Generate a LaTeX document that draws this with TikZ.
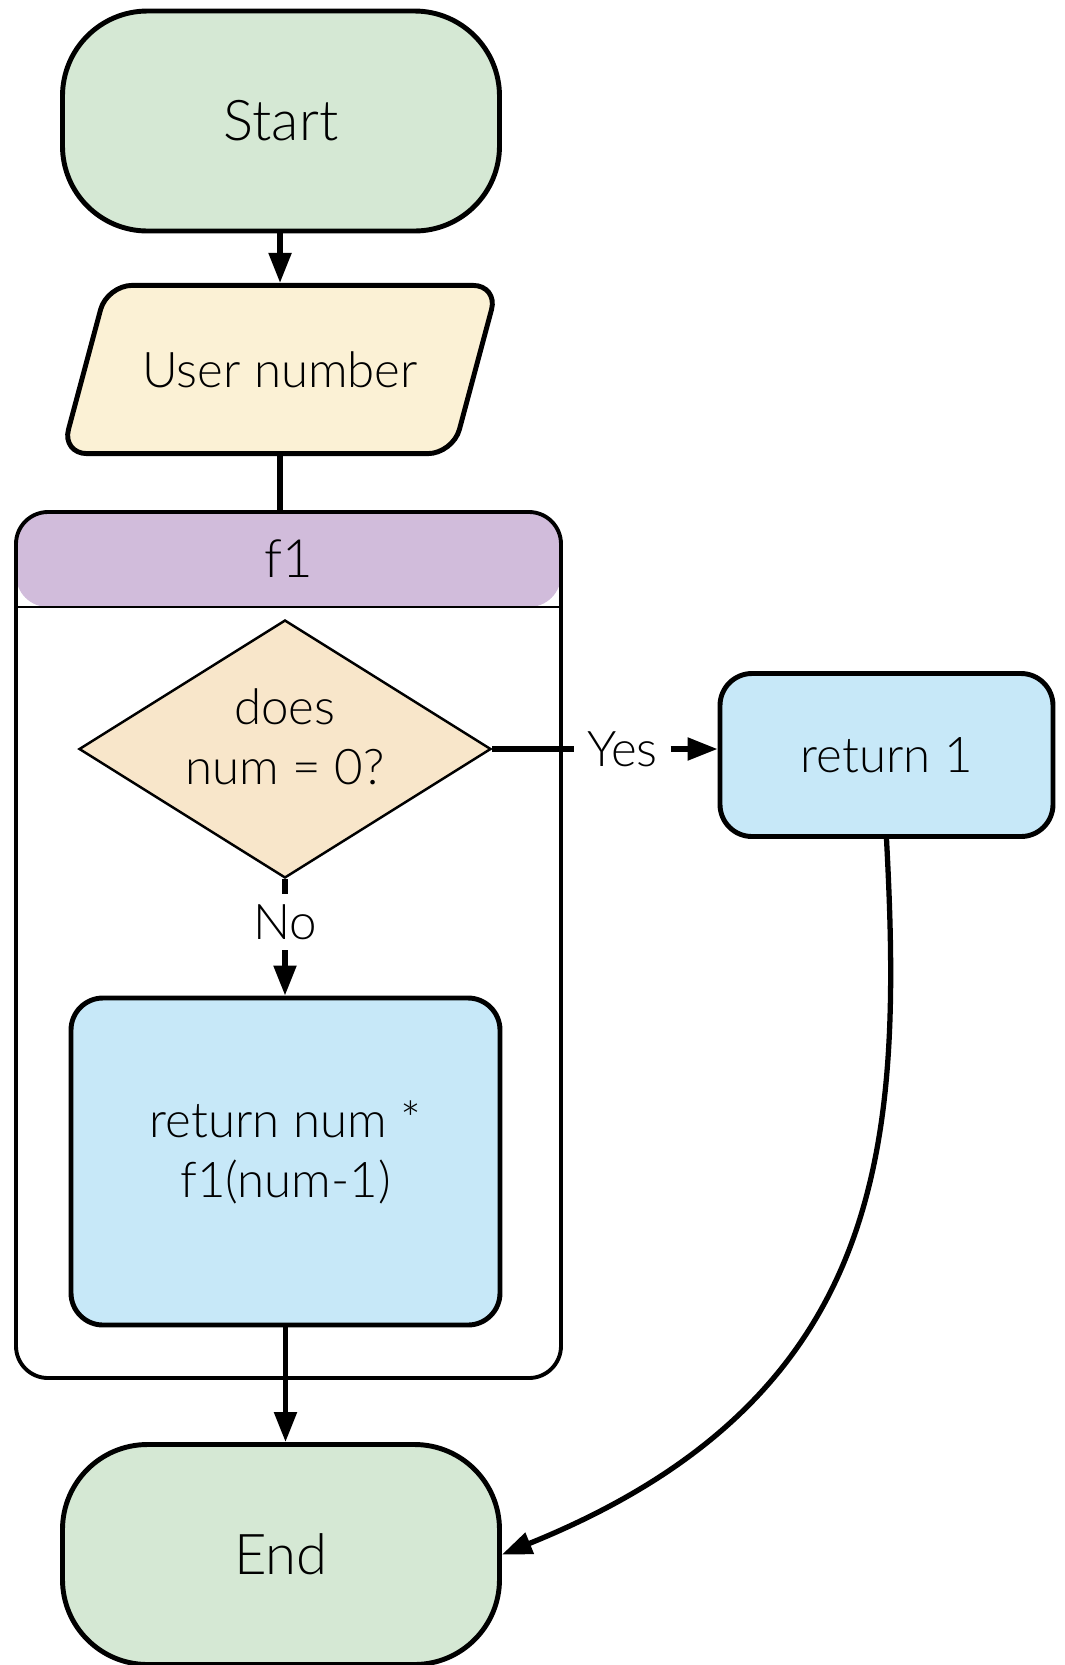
\documentclass[tikz,border=0pt]{standalone}
\usepackage{fontspec}
\setmainfont{Lato Light}
\usetikzlibrary{shapes.geometric,arrows.meta}

\definecolor{termgreen}{HTML}{D5E8D4}
\definecolor{inyellow}{HTML}{FBF1D5}
\definecolor{headpurple}{HTML}{D1BCDB}
\definecolor{testorange}{HTML}{F8E6CA}
\definecolor{procblue}{HTML}{C7E8F8}

\begin{document}
\begin{tikzpicture}[
  term/.style={draw,line width=1.4pt,fill=termgreen,rounded corners=0.85cm,
    minimum width=4.37cm,minimum height=2.2cm,font=\fontsize{16}{19}\selectfont},
  inbox/.style={draw,line width=1.4pt,fill=inyellow,trapezium,trapezium left angle=75,
    trapezium right angle=105,rounded corners=0.25cm,inner ysep=0.66cm,minimum width=4.36cm,
    trapezium stretches body=true,font=\fontsize{14}{17}\selectfont},
  proc/.style={draw,line width=1.4pt,fill=procblue,rounded corners=0.32cm,
    align=center,font=\fontsize{14}{17}\selectfont},
  test/.style={draw,line width=0.7pt,fill=testorange,diamond,aspect=1.6,inner sep=0pt,
    minimum width=4.12cm,minimum height=2.58cm,align=center,font=\fontsize{14}{17}\selectfont},
  frame/.style={draw,line width=1.1pt,rounded corners=0.32cm,minimum width=5.45cm,minimum height=8.66cm,
    path picture={
      \fill[headpurple] (path picture bounding box.north west) rectangle ([yshift=-0.95cm]path picture bounding box.north east);
      \draw[line width=0.8pt] ([yshift=-0.95cm]path picture bounding box.north west) -- ([yshift=-0.95cm]path picture bounding box.north east);}},
  lbl/.style={inner xsep=0.12cm,inner ysep=0.1cm,font=\fontsize{14}{17}\selectfont},
  link/.style={line width=1.5pt},
  arr/.style={line width=1.5pt,-{Triangle[length=0.3cm,width=0.22cm]}}
]

\useasboundingbox (0,0) rectangle (10.65,-16.65);

% container for f1
\node[frame] (f1frame) at (2.885,-9.45) {};
\node[font=\fontsize{15}{18}\selectfont] (f1head) at (2.885,-5.59) {f1};

\node[term] (start) at (2.81,-1.21) {Start};
\node[inbox] (user) at (2.80,-3.695) {User number};
\node[test,text depth=0.25cm] (check) at (2.85,-7.49) {does\\num = 0?};
\node[proc,minimum width=3.33cm,minimum height=1.63cm] (ret1) at (8.865,-7.55) {return 1};
\node[proc,minimum width=4.29cm,minimum height=3.27cm,text depth=0.25cm] (retn) at (2.855,-11.615) {return num *\\f1(num-1)};
\node[term] (end) at (2.81,-15.545) {End};

\node[lbl] (yes) at (6.225,-7.49) {Yes};
\node[lbl] (no) at (2.85,-9.22) {No};

% connectors
\draw[arr] (start.south -| user.north) -- (user.north);
\draw[link] (user.south) -- (user.south |- f1frame.north);
\draw[link] (check.east) -- (yes.west);
\draw[arr] (yes.east) -- (ret1.west |- yes.east);
\draw[link] (check.south) -- (no.north);
\draw[arr] (no.south) -- (retn.north -| no.south);
\draw[arr] (retn.south) -- (end.north -| retn.south);
\draw[arr] (ret1.south) to[out=-87,in=22,out distance=3cm,in distance=4.2cm] (end.east);

\end{tikzpicture}
\end{document}
